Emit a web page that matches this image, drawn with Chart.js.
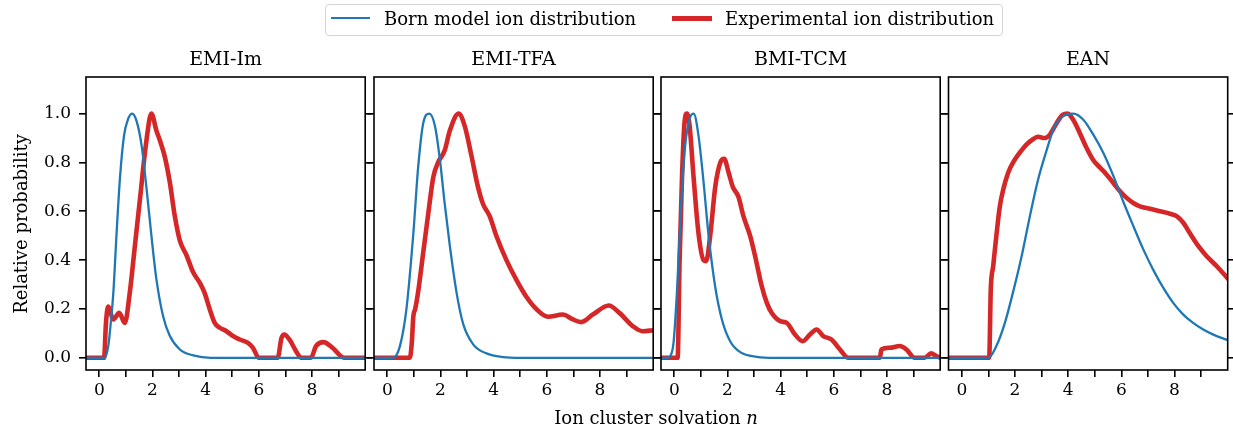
<!DOCTYPE html>
<html><head><meta charset="utf-8">
<script src="https://cdn.jsdelivr.net/npm/chart.js@4.4.1/dist/chart.umd.min.js"></script>
<style>
html,body{margin:0;padding:0;background:#fff;}
#wrap{position:relative;width:1233px;height:430px;overflow:hidden;font-family:'DejaVu Serif',serif;color:#000;background:#fff;}
canvas{position:absolute;left:0;top:0;}
.t{position:absolute;white-space:nowrap;line-height:1;}
</style></head><body><div id="wrap"></div>
<script>
// ---- data ----
const panelNames = ['EMI-Im', 'EMI-TFA', 'BMI-TCM', 'EAN'];
const seriesNames = ['Born model ion distribution', 'Experimental ion distribution'];
const xTicks = [0, 1, 2, 3, 4, 5, 6, 7, 8, 9];
const yTicks = [0, 0.2, 0.4, 0.6, 0.8, 1.0];

// EMI-Im
const born1X = [-0.5, 0.2, 0.34, 0.42, 0.53, 0.65, 0.78, 0.93, 1.09, 1.24, 1.4, 1.59, 1.78, 1.96, 2.15, 2.4, 2.65, 3.03, 3.53, 4.2, 10];
const born1Y = [0, 0, 0.05, 0.13, 0.27, 0.51, 0.74, 0.91, 0.98, 1.0, 0.97, 0.87, 0.69, 0.5, 0.32, 0.17, 0.09, 0.034, 0.01, 0, 0];
const exp1X = [-0.5, 0.18, 0.25, 0.33, 0.53, 0.75, 0.96, 1.15, 1.34, 1.53, 1.75, 1.96, 2.15, 2.28, 2.46, 2.65, 2.84, 3.03, 3.28, 3.53, 3.78, 3.96, 4.15, 4.34, 4.53, 4.78, 5.03, 5.28, 5.59, 5.78, 6.0, 6.71, 6.85, 6.96, 7.15, 7.4, 7.59, 7.96, 8.15, 8.43, 8.78, 9.2, 10];
const exp1Y = [0, 0, 0.14, 0.21, 0.157, 0.184, 0.143, 0.27, 0.46, 0.65, 0.87, 1.0, 0.93, 0.89, 0.825, 0.72, 0.58, 0.48, 0.42, 0.35, 0.307, 0.266, 0.20, 0.143, 0.123, 0.109, 0.089, 0.075, 0.061, 0.041, 0, 0, 0.08, 0.095, 0.075, 0.027, 0, 0, 0.048, 0.064, 0.04, 0, 0];

// EMI-TFA
const born2X = [-0.5, 0.22, 0.48, 0.72, 0.98, 1.16, 1.35, 1.58, 1.79, 1.98, 2.16, 2.35, 2.6, 2.85, 3.23, 3.73, 4.35, 5.0, 10];
const born2Y = [0, 0, 0.05, 0.2, 0.51, 0.78, 0.96, 1.0, 0.95, 0.81, 0.63, 0.46, 0.27, 0.14, 0.055, 0.018, 0.003, 0, 0];
const exp2X = [-0.5, 0.85, 0.92, 0.98, 1.05, 1.16, 1.35, 1.54, 1.73, 1.91, 2.16, 2.35, 2.68, 2.91, 3.16, 3.41, 3.6, 3.85, 4.1, 4.48, 4.85, 5.23, 5.6, 6.04, 6.6, 6.98, 7.29, 7.73, 8.33, 8.73, 9.23, 9.6, 10];
const exp2Y = [0, 0, 0.06, 0.17, 0.2, 0.27, 0.43, 0.59, 0.74, 0.80, 0.85, 0.93, 1.0, 0.95, 0.83, 0.70, 0.63, 0.58, 0.50, 0.40, 0.32, 0.25, 0.20, 0.168, 0.177, 0.157, 0.146, 0.177, 0.214, 0.184, 0.13, 0.109, 0.113];

// BMI-TCM
const born3X = [-0.5, -0.25, -0.15, -0.03, 0.1, 0.25, 0.41, 0.58, 0.73, 0.91, 1.1, 1.29, 1.54, 1.79, 2.1, 2.48, 3.1, 3.8, 10];
const born3Y = [0, 0, 0.007, 0.06, 0.27, 0.61, 0.87, 0.98, 1.0, 0.91, 0.72, 0.5, 0.29, 0.157, 0.068, 0.023, 0.004, 0, 0];
const exp3X = [-0.5, 0.125, 0.2, 0.29, 0.375, 0.475, 0.575, 0.725, 0.91, 1.1, 1.2, 1.35, 1.54, 1.73, 1.875, 2.04, 2.2, 2.41, 2.6, 2.85, 3.04, 3.29, 3.48, 3.66, 3.98, 4.23, 4.54, 4.83, 5.1, 5.35, 5.6, 5.91, 6.23, 6.54, 7.73, 7.79, 8.1, 8.48, 8.73, 9.04, 9.41, 9.66, 9.85, 10];
const exp3Y = [0, 0, 0.4, 0.74, 0.95, 1.0, 0.95, 0.74, 0.51, 0.40, 0.396, 0.5, 0.70, 0.80, 0.815, 0.76, 0.70, 0.66, 0.58, 0.50, 0.416, 0.293, 0.225, 0.184, 0.15, 0.143, 0.095, 0.068, 0.095, 0.116, 0.089, 0.075, 0.034, 0, 0, 0.034, 0.041, 0.048, 0.034, 0, 0, 0.018, 0.007, 0];

// EAN
const born4X = [-0.5, 1.0, 1.3, 1.62, 1.93, 2.25, 2.56, 2.87, 3.19, 3.5, 3.81, 4.19, 4.57, 4.94, 5.32, 5.7, 6.07, 6.45, 6.83, 7.2, 7.58, 7.95, 8.33, 8.7, 9.08, 9.46, 10];
const born4Y = [0, 0, 0.048, 0.143, 0.27, 0.416, 0.58, 0.73, 0.85, 0.95, 0.99, 1.0, 0.975, 0.915, 0.84, 0.745, 0.64, 0.54, 0.443, 0.36, 0.286, 0.225, 0.177, 0.143, 0.116, 0.095, 0.072];
const exp4X = [-0.5, 1.03, 1.09, 1.18, 1.3, 1.43, 1.56, 1.74, 1.93, 2.18, 2.43, 2.69, 2.87, 3.12, 3.31, 3.56, 3.79, 3.98, 4.19, 4.44, 4.69, 4.94, 5.19, 5.45, 5.7, 5.95, 6.2, 6.45, 6.7, 7.08, 7.45, 7.83, 8.08, 8.33, 8.58, 8.9, 9.21, 9.59, 10];
const exp4Y = [0, 0, 0.28, 0.375, 0.5, 0.62, 0.69, 0.757, 0.80, 0.84, 0.873, 0.896, 0.905, 0.90, 0.914, 0.96, 0.995, 1.0, 0.975, 0.92, 0.86, 0.81, 0.78, 0.75, 0.716, 0.682, 0.655, 0.634, 0.62, 0.61, 0.60, 0.59, 0.58, 0.553, 0.51, 0.457, 0.416, 0.375, 0.325];

const bornX = [born1X, born2X, born3X, born4X];
const bornY = [born1Y, born2Y, born3Y, born4Y];
const expX = [exp1X, exp2X, exp3X, exp4X];
const expY = [exp1Y, exp2Y, exp3Y, exp4Y];

// ---- layout / style ----
const W = 1233, H = 430;
const panelLeft = [86, 374, 661, 948.5];
const panelWidth = 279.2;
const plotTop = 77, plotBottom = 370;
const BLUE = '#1f77b4', RED = '#d62728';
const FONT = "'DejaVu Serif', serif";

Chart.defaults.font.family = FONT;
Chart.defaults.color = '#000';

const wrap = document.getElementById('wrap');
function addText(html, css) {
  const d = document.createElement('div');
  d.className = 't';
  d.innerHTML = html;
  Object.assign(d.style, css);
  wrap.appendChild(d);
  return d;
}
const pts = (xs, ys) => xs.map((x, i) => ({x: x, y: ys[i]}));

const framePlugin = {
  id: 'frame',
  afterDatasetsDraw(c) {
    const a = c.chartArea, ctx = c.ctx;
    ctx.save();
    ctx.strokeStyle = '#000';
    ctx.lineWidth = 1.6;
    ctx.strokeRect(a.left, a.top, a.right - a.left, a.bottom - a.top);
    ctx.restore();
  }
};

const gridOpt = {display: true, drawOnChartArea: false, drawTicks: true, tickLength: 7, color: '#000', lineWidth: 1.6};

panelNames.forEach((name, i) => {
  const L = panelLeft[i], R = L + panelWidth;
  const WL = 50, WR = 12, HX = 50;
  const cv = document.createElement('canvas');
  cv.width = W; cv.height = H;
  cv.style.width = W + 'px'; cv.style.height = H + 'px';
  wrap.appendChild(cv);
  new Chart(cv, {
    type: 'line',
    data: {datasets: [
      {label: seriesNames[0], data: pts(bornX[i], bornY[i]), borderColor: BLUE, backgroundColor: BLUE,
       borderWidth: 2.3, pointRadius: 0, cubicInterpolationMode: 'monotone', fill: false},
      {label: seriesNames[1], data: pts(expX[i], expY[i]), borderColor: RED, backgroundColor: RED,
       borderWidth: 4.6, pointRadius: 0, cubicInterpolationMode: 'monotone', fill: false,
       borderCapStyle: 'round', borderJoinStyle: 'round'}
    ]},
    options: {
      responsive: false, animation: false, devicePixelRatio: 1, events: [],
      layout: {padding: {left: L - WL, right: W - R - WR, top: plotTop, bottom: H - plotBottom - HX}},
      plugins: {legend: {display: false}, tooltip: {enabled: false}, title: {display: false}},
      scales: {
        x: {type: 'linear', position: 'bottom', min: -0.5, max: 10,
            afterBuildTicks: s => { s.ticks = xTicks.map(v => ({value: v})); },
            afterFit: s => { s.height = HX; },
            grid: gridOpt, border: {display: false},
            ticks: {autoSkip: false, maxRotation: 0, minRotation: 0, padding: 3, color: '#000',
                    font: {size: 17, family: FONT},
                    callback: v => (v % 2 === 0 ? String(v) : '')}},
        y: {type: 'linear', position: 'left', min: -0.05, max: 1.15,
            afterBuildTicks: s => { s.ticks = yTicks.map(v => ({value: v})); },
            afterFit: s => { s.width = WL; },
            grid: gridOpt, border: {display: false},
            ticks: {autoSkip: false, padding: 8, color: '#000', font: {size: 17, family: FONT},
                    callback: v => (i === 0 ? Number(v).toFixed(1) : '')}},
        y2: {type: 'linear', position: 'right', min: -0.05, max: 1.15,
             afterBuildTicks: s => { s.ticks = yTicks.map(v => ({value: v})); },
             afterFit: s => { s.width = WR; },
             grid: gridOpt, border: {display: false},
             ticks: {autoSkip: false, padding: 2, font: {size: 17, family: FONT}, callback: () => ''}}
      }
    },
    plugins: [framePlugin]
  });
  // panel title
  addText(name, {left: (L + panelWidth / 2 - 100) + 'px', width: '200px', textAlign: 'center',
                 top: '49px', fontSize: '19px'});
});

// axis labels
addText('Ion cluster solvation <i>n</i>', {left: '456px', width: '400px', textAlign: 'center', top: '409px', fontSize: '18px'});
addText('Relative probability', {left: '-79px', width: '200px', textAlign: 'center', top: '214.5px', fontSize: '18px',
                                 transform: 'rotate(-90deg)', transformOrigin: '100px 9px'});

// legend
const lg = document.createElement('div');
Object.assign(lg.style, {position: 'absolute', left: '325px', top: '4px', width: '678px', height: '32px',
  border: '1.5px solid #d4d4d4', borderRadius: '4px', boxSizing: 'border-box', background: 'rgba(255,255,255,0.8)'});
wrap.appendChild(lg);
const s1 = document.createElement('div');
Object.assign(s1.style, {position: 'absolute', left: '331px', top: '17px', width: '39px', height: '2.3px', background: BLUE});
wrap.appendChild(s1);
const s2 = document.createElement('div');
Object.assign(s2.style, {position: 'absolute', left: '672px', top: '16px', width: '40px', height: '4.6px', background: RED});
wrap.appendChild(s2);
addText(seriesNames[0], {left: '384px', top: '10px', fontSize: '18px'});
addText(seriesNames[1], {left: '725px', top: '10px', fontSize: '18px'});
</script>
</body></html>
